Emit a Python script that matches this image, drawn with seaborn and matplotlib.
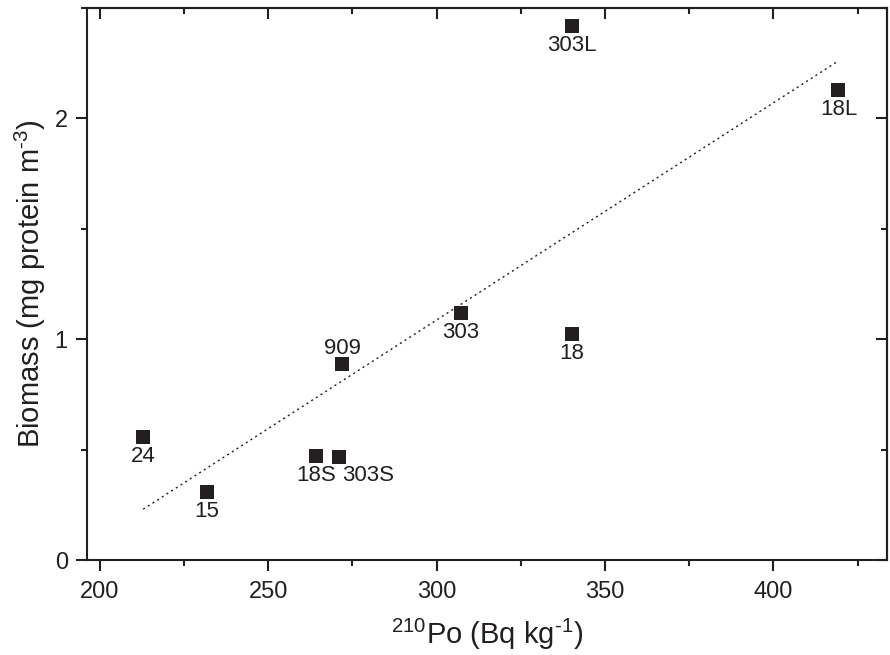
import matplotlib
matplotlib.use('Agg')
import matplotlib.pyplot as plt
import seaborn as sns
import pandas as pd
from matplotlib.ticker import MultipleLocator, NullFormatter

# values
po210 = [212.9, 231.8, 264.1, 270.9, 272.0, 307.2, 340.1, 340.1, 419.3]
biomass = [0.557, 0.308, 0.470, 0.466, 0.887, 1.118, 1.023, 2.416, 2.130]
station = ['24', '15', '18S', '303S', '909', '303', '18', '303L', '18L']

# regression line end points
fit_x = [212.9, 419.3]
fit_y = [0.23, 2.26]

sns.set_style('ticks')
plt.rcParams['font.family'] = ['Liberation Sans', 'DejaVu Sans']
plt.rcParams['mathtext.fontset'] = 'custom'
plt.rcParams['mathtext.rm'] = 'Liberation Sans'
plt.rcParams['mathtext.it'] = 'Liberation Sans:italic'

df = pd.DataFrame({'po': po210, 'bio': biomass, 'name': station})
fit = pd.DataFrame({'x': fit_x, 'y': fit_y})

fig, ax = plt.subplots(figsize=(8.9, 6.55), dpi=100)
fig.subplots_adjust(left=0.098, right=0.997, top=0.988, bottom=0.145)

ink = '#231f20'
sns.lineplot(data=fit, x='x', y='y', ax=ax, color=ink, lw=1.0,
             linestyle=(0, (1.5, 2.5)))
sns.scatterplot(data=df, x='po', y='bio', ax=ax, marker='s', s=90,
                color=ink, edgecolor=ink, linewidth=0, zorder=3)

# label placement (offset in points)
offs = {'909': (0, 11.5), '303S': (21, -13)}
for _, r in df.iterrows():
    dx, dy = offs.get(r['name'], (0, -14))
    ax.annotate(r['name'], (r['po'], r['bio']), xytext=(dx, dy),
                textcoords='offset points', ha='center', va='center',
                fontsize=16, color=ink)

ax.set_xlim(196.3, 433.8)
ax.set_ylim(0, 2.5)
ax.xaxis.set_major_locator(MultipleLocator(50))
ax.xaxis.set_minor_locator(MultipleLocator(25))
ax.yaxis.set_major_locator(MultipleLocator(1))
ax.yaxis.set_minor_locator(MultipleLocator(0.5))

for s in ax.spines.values():
    s.set_visible(True)
    s.set_linewidth(1.5)
    s.set_color(ink)

ax.tick_params(which='major', direction='out', length=8, width=1.5,
               labelsize=17, colors=ink, pad=6)
ax.tick_params(which='minor', direction='out', length=4, width=1.5, colors=ink)
ax.tick_params(axis='x', which='major', pad=7)

# inward ticks on top and right
top = ax.secondary_xaxis('top')
top.xaxis.set_major_locator(MultipleLocator(50))
top.xaxis.set_minor_locator(MultipleLocator(25))
top.xaxis.set_major_formatter(NullFormatter())
top.tick_params(which='major', direction='in', length=8, width=1.5, colors=ink)
top.tick_params(which='minor', direction='in', length=4, width=1.5, colors=ink)
top.spines['top'].set_linewidth(1.5)
right = ax.secondary_yaxis('right')
right.yaxis.set_major_locator(MultipleLocator(1))
right.yaxis.set_minor_locator(MultipleLocator(0.5))
right.yaxis.set_major_formatter(NullFormatter())
right.tick_params(which='major', direction='in', length=8, width=1.5, colors=ink)
right.tick_params(which='minor', direction='in', length=4, width=1.5, colors=ink)
right.spines['right'].set_linewidth(1.5)

ax.set_xlabel('$^{210}$Po (Bq kg$^{\\text{-1}}$)', fontsize=21, color=ink, labelpad=10)
ax.set_ylabel('Biomass (mg protein m$^{\\text{-3}}$)', fontsize=21, color=ink, labelpad=5)

fig.savefig('out.png', dpi=100)
